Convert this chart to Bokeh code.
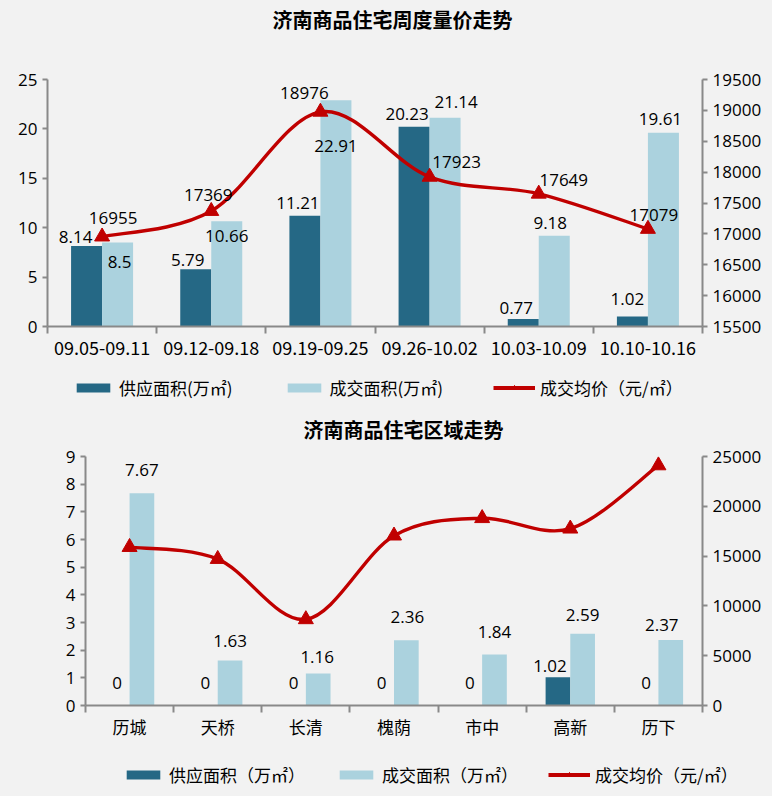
import numpy as np
from bokeh.plotting import figure
from bokeh.models import (ColumnDataSource, Range1d, LinearAxis, FixedTicker,
                          Legend, LegendItem, Title)
from bokeh.layouts import column
from bokeh.embed import file_html
from bokeh.resources import INLINE
from bokeh.core.properties import value

# ---------------- data ----------------
weeks = ["09.05-09.11", "09.12-09.18", "09.19-09.25", "09.26-10.02", "10.03-10.09", "10.10-10.16"]
supply_week = [8.14, 5.79, 11.21, 20.23, 0.77, 1.02]
deal_week = [8.5, 10.66, 22.91, 21.14, 9.18, 19.61]
price_week = [16955, 17369, 18976, 17923, 17649, 17079]

districts = ["历城", "天桥", "长清", "槐荫", "市中", "高新", "历下"]
supply_dist = [0, 0, 0, 0, 0, 1.02, 0]
deal_dist = [7.67, 1.63, 1.16, 2.36, 1.84, 2.59, 2.37]
price_dist = [15900, 14700, 8650, 17050, 18800, 17750, 24100]

left_ticks_week = [0, 5, 10, 15, 20, 25]
right_ticks_week = [15500, 16000, 16500, 17000, 17500, 18000, 18500, 19000, 19500]
left_ticks_dist = [0, 1, 2, 3, 4, 5, 6, 7, 8, 9]
right_ticks_dist = [0, 5000, 10000, 15000, 20000, 25000]

legend_week = ["供应面积(万㎡)", "成交面积(万㎡)", "成交均价（元/㎡）"]
legend_dist = ["供应面积（万㎡）", "成交面积（万㎡）", "成交均价（元/㎡）"]

# label pixel offsets (style only)
dx_sup_w = [-11, -8, -7, -7, -7, -5]
dy_sup_w = [-9, -9, -13, -13, -11, -17]
dx_deal_w = [2, 0, 0, 11, -4, -3]
dy_deal_w = [19, 15, 46, -16, -13, -14]
dx_price_w = [11, -3, -16, 27, 25, 6]
dy_price_w = [-19, -16, -19, -15, -14, -14]

dx_sup_d = [0, 0, 0, 0, 0, -8, 0]
dy_sup_d = [-23, -23, -23, -23, -23, -11, -23]
dx_deal_d = [0, 0, -1, 1, 0, 0, -9]
dy_deal_d = [-23, -19, -16, -23, -23, -19, -15]

# ---------------- style ----------------
BG = "#f2f2f2"
DARK = "#256885"
LIGHT = "#abd2de"
RED = "#c00000"
AXIS = "#898989"
NUM_FONT = "Open Sans"
CJK_FONT = "Noto Sans CJK SC"


def smooth_segments(xs, ys):
    n = len(xs)
    P = list(zip(xs, ys))
    s = dict(x0=[], y0=[], x1=[], y1=[], cx0=[], cy0=[], cx1=[], cy1=[])
    for i in range(n - 1):
        pp = P[i - 1] if i > 0 else P[i]
        p0 = P[i]
        p1 = P[i + 1]
        pn = P[i + 2] if i + 2 < n else P[i + 1]
        s["x0"].append(p0[0]); s["y0"].append(p0[1])
        s["x1"].append(p1[0]); s["y1"].append(p1[1])
        s["cx0"].append(p0[0] + (p1[0] - pp[0]) / 6.0)
        s["cy0"].append(p0[1] + (p1[1] - pp[1]) / 6.0)
        s["cx1"].append(p1[0] - (pn[0] - p0[0]) / 6.0)
        s["cy1"].append(p1[1] - (pn[1] - p0[1]) / 6.0)
    return s


def style_axis(ax):
    ax.axis_line_color = AXIS
    ax.axis_line_width = 2
    ax.major_tick_line_color = AXIS
    ax.major_tick_line_width = 2
    ax.major_tick_out = 5
    ax.major_tick_in = 0
    ax.minor_tick_line_color = None
    ax.major_label_text_font = NUM_FONT
    ax.major_label_text_font_size = "17px"
    ax.major_label_text_color = "#000000"
    ax.major_label_standoff = 5


def no_align(p):
    if "frame_align" in p.properties():
        p.frame_align = False


def build(cats, supply, deal, price, lticks, rticks, rrange, title, height,
          borders, bw, title_left, top_gap,
          dxs, dys, dxd, dyd, dxp=None, dyp=None, xlab_font_size="18px", xlab_standoff=7):
    n = len(cats)
    p = figure(width=772, height=height, x_range=Range1d(-0.5, n - 0.5),
               y_range=Range1d(lticks[0], lticks[-1]),
               output_backend="svg", toolbar_location=None, title_location=None,
               background_fill_color=BG, border_fill_color=BG, outline_line_color=None,
               min_border_left=borders[0], min_border_right=borders[1],
               min_border_top=borders[2], min_border_bottom=borders[3])
    no_align(p)
    p.extra_y_ranges = {"price": Range1d(*rrange)}
    p.xgrid.visible = False
    p.ygrid.visible = False

    p.add_layout(Title(text=" ", text_font_size="1px", standoff=top_gap, text_color=BG), "above")
    p.add_layout(Title(text=title, align="left", offset=title_left, text_font=CJK_FONT,
                       text_font_style="bold", text_font_size="20px",
                       text_color="#000000", standoff=4), "above")

    idx = list(range(n))
    off = bw / 2.0
    src = ColumnDataSource(dict(
        xs=[i - off for i in idx], xd=[i + off for i in idx], xp=idx,
        supply=supply, deal=deal, price=price,
        ts=[("%g" % v) for v in supply], td=[("%g" % v) for v in deal],
        tp=[str(v) for v in price],
        dxs=dxs, dys=dys, dxd=dxd, dyd=dyd,
        dxp=dxp if dxp else [0] * n, dyp=dyp if dyp else [0] * n))

    p.vbar(x="xs", top="supply", bottom=0, width=bw, source=src,
           fill_color=DARK, line_color=None)
    p.vbar(x="xd", top="deal", bottom=0, width=bw, source=src,
           fill_color=LIGHT, line_color=None)

    seg = ColumnDataSource(smooth_segments(idx, price))
    p.bezier(x0="x0", y0="y0", x1="x1", y1="y1", cx0="cx0", cy0="cy0",
             cx1="cx1", cy1="cy1", source=seg, line_color=RED, line_width=3.4,
             y_range_name="price")
    p.scatter(x="xp", y="price", source=src, marker="triangle", size=15,
              fill_color=RED, line_color=RED, y_range_name="price")

    common = dict(text_align="center", text_baseline="middle",
                  text_font=value(NUM_FONT), text_font_size="17px", text_color="#000000")
    p.text(x="xs", y="supply", text="ts", x_offset="dxs", y_offset="dys", source=src, **common)
    p.text(x="xd", y="deal", text="td", x_offset="dxd", y_offset="dyd", source=src, **common)
    if dxp:
        p.text(x="xp", y="price", text="tp", x_offset="dxp", y_offset="dyp", source=src,
               y_range_name="price", **common)

    style_axis(p.yaxis[0])
    p.yaxis[0].ticker = FixedTicker(ticks=lticks)
    rax = LinearAxis(y_range_name="price", ticker=FixedTicker(ticks=rticks))
    style_axis(rax)
    p.add_layout(rax, "right")

    xa = p.xaxis[0]
    xa.ticker = FixedTicker(ticks=idx, minor_ticks=[i - 0.5 for i in range(n + 1)])
    xa.major_label_overrides = {i: c for i, c in enumerate(cats)}
    xa.axis_line_color = AXIS
    xa.axis_line_width = 2
    xa.major_tick_line_color = None
    xa.major_tick_out = 0
    xa.major_tick_in = 0
    xa.minor_tick_line_color = AXIS
    xa.minor_tick_line_width = 2
    xa.minor_tick_out = 7
    xa.minor_tick_in = 0
    xa.major_label_text_font = CJK_FONT
    xa.major_label_text_font_size = xlab_font_size
    xa.major_label_text_color = "#000000"
    xa.major_label_standoff = xlab_standoff
    return p


def legend_fig(labels, supply, deal, price, height, x, y, spacing):
    # legend-only strip: its renderers are hidden, only their legend swatches show
    lp = figure(width=772, height=height, x_range=Range1d(1000, 1001),
                y_range=Range1d(-2000, -1999),
                output_backend="svg", toolbar_location=None, title_location=None,
                x_axis_location=None, y_axis_location=None,
                background_fill_color=BG, border_fill_color=BG, outline_line_color=None,
                min_border=0)
    no_align(lp)
    lp.xgrid.visible = False
    lp.ygrid.visible = False
    n = len(supply)
    src = ColumnDataSource(dict(x=list(range(n)), s=supply, d=deal, p=price))
    r1 = lp.vbar(x="x", top="s", bottom=0, width=0.28, source=src, fill_color=DARK, line_color=None)
    r2 = lp.vbar(x="x", top="d", bottom=0, width=0.28, source=src, fill_color=LIGHT, line_color=None)
    r3 = lp.line(x="x", y="p", source=src, line_color=RED, line_width=4)
    r4 = lp.scatter(x="x", y="p", source=src, marker="triangle", size=13,
                    fill_color=RED, line_color=RED)
    for r in (r1, r2, r3, r4):
        r.visible = False
    legend = Legend(items=[
        LegendItem(label=labels[0], renderers=[r1]),
        LegendItem(label=labels[1], renderers=[r2]),
        LegendItem(label=labels[2], renderers=[r3, r4]),
    ], orientation="horizontal", location=(x, y), spacing=spacing,
        glyph_width=42, glyph_height=11, label_standoff=5,
        label_text_font=CJK_FONT, label_text_font_size="17px", label_text_color="#000000",
        padding=0, margin=0, border_line_color=None, background_fill_alpha=0)
    lp.add_layout(legend)
    return lp


p1 = build(weeks, supply_week, deal_week, price_week, left_ticks_week, right_ticks_week,
           (15500, 19500), "济南商品住宅周度量价走势", 372, (47, 70, 79, 46), 0.284,
           225, 41,
           dx_sup_w, dy_sup_w, dx_deal_w, dy_deal_w, dx_price_w, dy_price_w,
           xlab_font_size="18px", xlab_standoff=7)
l1 = legend_fig(legend_week, supply_week, deal_week, price_week, 38, 72, 10, 50)

p2 = build(districts, supply_dist, deal_dist, price_dist, left_ticks_dist, right_ticks_dist,
           (0, 25000), "济南商品住宅区域走势", 340, (85, 70, 46, 45), 0.28,
           218, 8,
           dx_sup_d, dy_sup_d, dx_deal_d, dy_deal_d,
           xlab_font_size="17px", xlab_standoff=1)
l2 = legend_fig(legend_dist, supply_dist, deal_dist, price_dist, 46, 122, 9, 30)

layout = column(p1, l1, p2, l2, spacing=0, styles={"background-color": BG})
open("out.html", "w").write(file_html(layout, INLINE))
